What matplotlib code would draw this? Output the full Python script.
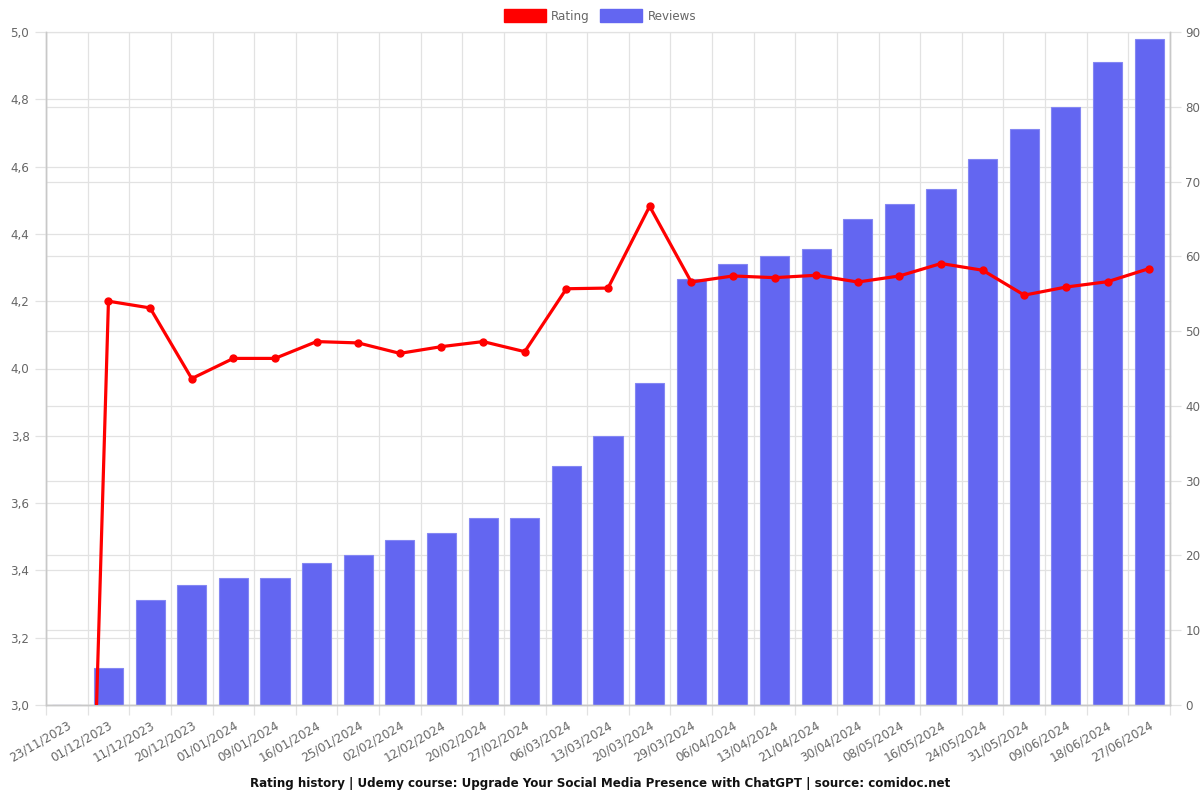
import matplotlib
matplotlib.use("Agg")
import matplotlib.pyplot as plt
from matplotlib.patches import Patch
from matplotlib.ticker import FixedLocator, FuncFormatter
import numpy as np

dates = ["23/11/2023", "01/12/2023", "11/12/2023", "20/12/2023", "01/01/2024", "09/01/2024",
         "16/01/2024", "25/01/2024", "02/02/2024", "12/02/2024", "20/02/2024", "27/02/2024",
         "06/03/2024", "13/03/2024", "20/03/2024", "29/03/2024", "06/04/2024", "13/04/2024",
         "21/04/2024", "30/04/2024", "08/05/2024", "16/05/2024", "24/05/2024", "31/05/2024",
         "09/06/2024", "18/06/2024", "27/06/2024"]
reviews = [0, 5, 14, 16, 17, 17, 19, 20, 22, 23, 25, 25, 32, 36, 43, 57, 59, 60, 61, 65,
           67, 69, 73, 77, 80, 86, 89]
rating = [0.0, 4.20, 4.18, 3.97, 4.03, 4.03, 4.08, 4.076, 4.045, 4.065, 4.08, 4.05, 4.237,
          4.239, 4.482, 4.257, 4.275, 4.27, 4.277, 4.257, 4.275, 4.312, 4.292, 4.218, 4.242,
          4.258, 4.297]
rating_ticks = [3.0, 3.2, 3.4, 3.6, 3.8, 4.0, 4.2, 4.4, 4.6, 4.8, 5.0]
review_ticks = [0, 10, 20, 30, 40, 50, 60, 70, 80, 90]

title = "Rating history | Udemy course: Upgrade Your Social Media Presence with ChatGPT | source: comidoc.net"

TXT = "#666666"
GRID = "#e2e2e2"
AXC = "#c8c8c8"
BAR = "#6366f1"
RED = "#ff0000"
FS = 8.6

fig = plt.figure(figsize=(12, 8), dpi=100)
ax2 = fig.add_axes([46/1200, 1-705/800, (1170-46)/1200, (705-32)/800])
ax = ax2.twinx()
ax2.yaxis.tick_right()
ax.yaxis.tick_left()
ax.set_zorder(ax2.get_zorder() + 1)
ax.patch.set_visible(False)

x = np.arange(len(dates))

# bars (reviews) on right axis
ax2.bar(x, reviews, width=0.70, color=BAR, edgecolor="#8487f3", linewidth=0.8, zorder=3)
ax2.set_ylim(0, 90)
ax2.set_xlim(-0.5, len(dates) - 0.5)
ax2.yaxis.set_major_locator(FixedLocator(review_ticks))

# grids on bottom axes
ax2.set_axisbelow(True)
ax2.xaxis.set_minor_locator(FixedLocator(np.arange(-0.5, len(dates), 1.0)))
ax2.grid(True, which="minor", axis="x", color=GRID, linewidth=0.9, zorder=0)
ax2.grid(True, which="major", axis="y", color=GRID, linewidth=0.9, zorder=0)
for v in rating_ticks:
    ax2.plot([0, 1], [v, v], transform=ax.get_yaxis_transform(), color=GRID,
             linewidth=0.9, zorder=0.5, clip_on=False)

ax2.set_xticks(x)
ax2.set_xticklabels(dates, rotation=30, ha="right", rotation_mode="anchor",
                    fontsize=FS, color=TXT)
ax2.tick_params(axis="x", which="major", length=0, pad=10)
ax2.tick_params(axis="x", which="minor", length=7, color=GRID, width=0.9)
ax2.tick_params(axis="y", which="major", length=8, color=GRID, width=0.9,
                labelsize=FS, labelcolor=TXT, pad=3, right=True, left=False,
                labelright=True, labelleft=False)

# rating line on left axis
ax.plot(x, rating, color=RED, linewidth=2.3, marker="o", markersize=5,
        markerfacecolor=RED, markeredgecolor=RED, zorder=5, clip_on=True)
ax.set_ylim(3.0, 5.0)
ax.yaxis.set_major_locator(FixedLocator(rating_ticks))
ax.yaxis.set_major_formatter(FuncFormatter(lambda v, p: f"{v:.1f}".replace(".", ",")))
ax.tick_params(axis="y", length=8, color=GRID, width=0.9, labelsize=FS,
               labelcolor=TXT, pad=4, left=True, right=False, labelleft=True,
               labelright=False)

for a in (ax, ax2):
    a.spines["top"].set_visible(False)
    for s in ("left", "right", "bottom"):
        a.spines[s].set_color(AXC)
        a.spines[s].set_linewidth(1.0)

handles = [Patch(facecolor=RED, edgecolor=RED, label="Rating"),
           Patch(facecolor=BAR, edgecolor=BAR, label="Reviews")]
leg = fig.legend(handles=handles, loc="center", bbox_to_anchor=(0.5, 1-16/800), ncol=2,
                 frameon=False, fontsize=FS, handlelength=3.5, handleheight=1.2,
                 handletextpad=0.45, columnspacing=0.9, borderaxespad=0)
for t in leg.get_texts():
    t.set_color(TXT)

fig.text(0.5, 1-783/800, title, ha="center", va="center", fontsize=FS,
         fontweight="bold", color="#111111")

fig.savefig("out.png", dpi=100)
